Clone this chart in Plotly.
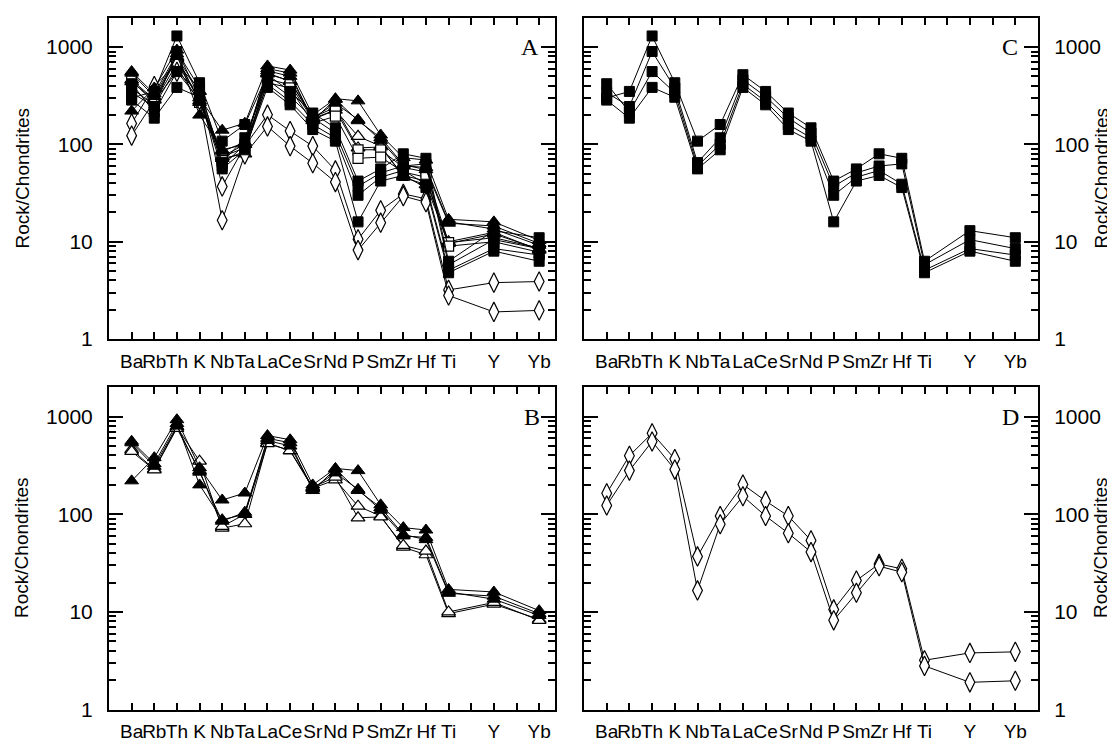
import plotly.graph_objects as go

# ---------------- data ----------------
elements = ["Ba", "Rb", "Th", "K", "Nb", "Ta", "La", "Ce", "Sr", "Nd", "P", "Sm", "Zr", "Hf", "Ti", "Y", "Yb"]
positions = [1, 2, 3, 4, 5, 6, 7, 8, 9, 10, 11, 12, 13, 14, 15, 17, 19]
tick_positions = list(range(1, 20))
tick_labels = ["Ba", "Rb", "Th", "K", "Nb", "Ta", "La", "Ce", "Sr", "Nd", "P", "Sm", "Zr", "Hf", "Ti", "", "Y", "", "Yb"]
y_tickvals = [1, 10, 100, 1000]
y_ticktext = ["1", "10", "100", "1000"]
panel_letters = ["A", "C", "B", "D"]

# filled squares (panel C)
sq1 = [300, 350, 1300, 430, 108, 160, 520, 350, 210, 148, 42, 56, 80, 72, 6.3, 13.0, 11.0]
sq2 = [340, 245, 900, 380, 65, 117, 460, 310, 187, 131, 37, 51, 60, 63, 5.8, 10.5, 8.5]
sq3 = [420, 215, 560, 340, 60, 100, 415, 276, 160, 117, 30, 46, 54, 39, 5.1, 8.5, 7.3]
sq4 = [285, 186, 385, 305, 56, 88, 385, 255, 142, 108, 16, 42, 48, 36, 4.8, 8.0, 6.3]

# filled triangles (panel B)
tri1 = [220, 380, 930, 300, 140, 165, 640, 580, 200, 295, 280, 125, 73, 69, 17.0, 16.0, 10.3]
tri2 = [560, 330, 850, 200, 88, 100, 600, 540, 175, 290, 175, 117, 62, 55, 15.5, 14.5, 9.6]
tri3 = [540, 310, 800, 270, 85, 105, 570, 500, 185, 265, 180, 110, 60, 58, 16.0, 13.5, 9.2]

# open triangles (panel B)
otri1 = [460, 290, 780, 350, 72, 80, 540, 445, 185, 225, 121, 96, 46, 38.5, 9.6, 12.0, 8.4]
otri2 = [440, 285, 760, 280, 75, 100, 530, 450, 190, 240, 92, 94, 48, 42, 10.0, 12.5, 8.2]

# open diamonds (panel D)
dia1 = [164, 398, 676, 368, 37, 96, 202, 137, 96, 54, 10.6, 21, 31, 27.6, 3.2, 3.8, 3.9]
dia2 = [123, 280, 557, 287, 16.6, 79, 153, 96, 64, 41, 8.2, 15.7, 29.4, 25.5, 2.8, 1.9, 1.97]

# open squares (panel A only)
osq1 = [450, 270, 680, 290, 75, 92, 470, 410, 180, 225, 88, 88, 58, 52, 9.8, 11.0, 8.6]
osq2 = [380, 250, 620, 270, 68, 85, 430, 380, 165, 195, 72, 74, 52, 46, 9.0, 10.0, 7.8]

# ---------------- styles ----------------
SANS = "Liberation Sans Narrow, Arial Narrow, Liberation Sans, Arial, sans-serif"
SANS_WIDE = "Liberation Sans, Arial, Helvetica, sans-serif"
SERIF = "Liberation Serif, Times New Roman, serif"

filled_square = dict(symbol="square", size=10, color="black", line=dict(color="black", width=1))
filled_tri = dict(symbol="triangle-up", size=12, color="black", line=dict(color="black", width=1))
open_tri = dict(symbol="triangle-up", size=12, color="white", line=dict(color="black", width=1.2))
open_dia = dict(symbol="diamond-tall", size=14, color="white", line=dict(color="black", width=1.2))
open_sq = dict(symbol="square", size=10, color="white", line=dict(color="black", width=1.2))

groups_A = [(otri1, open_tri), (otri2, open_tri), (osq1, open_sq), (osq2, open_sq),
            (dia1, open_dia), (dia2, open_dia),
            (sq1, filled_square), (sq2, filled_square), (sq3, filled_square), (sq4, filled_square),
            (tri1, filled_tri), (tri2, filled_tri), (tri3, filled_tri)]
groups_B = [(otri1, open_tri), (otri2, open_tri), (tri1, filled_tri), (tri2, filled_tri), (tri3, filled_tri)]
groups_C = [(sq1, filled_square), (sq2, filled_square), (sq3, filled_square), (sq4, filled_square)]
groups_D = [(dia1, open_dia), (dia2, open_dia)]

fig = go.Figure()

panels = [("x", "y", groups_A), ("x2", "y2", groups_C), ("x3", "y3", groups_B), ("x4", "y4", groups_D)]
for xa, ya, groups in panels:
    for vals, mk in groups:
        fig.add_trace(go.Scatter(
            x=positions, y=vals, mode="lines+markers",
            line=dict(color="black", width=1), marker=mk,
            xaxis=xa, yaxis=ya, showlegend=False, hoverinfo="skip"))

W, H = 1115, 749
left_dom = [101 / W, 547 / W]
right_dom = [576 / W, 1030 / W]
top_dom = [1 - 336 / H, 1 - 10 / H]
bot_dom = [1 - 712 / H, 1 - 385 / H]

minor_vals = [m * 10 ** e for e in range(0, 4) for m in range(2, 10)]


def xaxis(domain, anchor, rng):
    return dict(domain=domain, anchor=anchor, range=rng, showgrid=False, zeroline=False,
                showline=True, linecolor="black", linewidth=2, mirror="allticks",
                ticks="inside", ticklen=7, tickwidth=2, tickcolor="black", tickangle=0,
                tickmode="array", tickvals=tick_positions, ticktext=tick_labels,
                tickfont=dict(family=SANS, size=19, color="black"), ticklabelstandoff=4)


def yaxis(domain, anchor, side):
    return dict(domain=domain, anchor=anchor, type="log", range=[0, 3.3], side=side,
                showgrid=False, zeroline=False, showline=True, linecolor="black", linewidth=2,
                mirror="allticks", ticks="inside", ticklen=14, tickwidth=2, tickcolor="black",
                tickmode="array", tickvals=y_tickvals, ticktext=y_ticktext,
                tickfont=dict(family=SANS_WIDE, size=21, color="black"), ticklabelstandoff=10,
                minor=dict(ticks="inside", ticklen=7, tickwidth=1.5, tickcolor="black",
                           tickmode="array", tickvals=minor_vals, showgrid=False))


fig.update_layout(
    width=W, height=H, margin=dict(l=0, r=0, t=0, b=0),
    paper_bgcolor="white", plot_bgcolor="white",
    xaxis=xaxis(left_dom, "y", [0, 19.7]),
    yaxis=yaxis(top_dom, "x", "left"),
    xaxis2=xaxis(right_dom, "y2", [0, 20]),
    yaxis2=yaxis(top_dom, "x2", "right"),
    xaxis3=xaxis(left_dom, "y3", [0, 19.7]),
    yaxis3=yaxis(bot_dom, "x3", "left"),
    xaxis4=xaxis(right_dom, "y4", [0, 20]),
    yaxis4=yaxis(bot_dom, "x4", "right"),
)

annotations = []
letter_pos = [("x", "y", 18.6), ("x2", "y2", 18.75), ("x3", "y3", 18.7), ("x4", "y4", 18.8)]
for (xr, yr, xp), letter in zip(letter_pos, panel_letters):
    annotations.append(dict(x=xp, y=3.0, xref=xr, yref=yr, text=letter, showarrow=False,
                            font=dict(family=SERIF, size=24, color="black")))

title_pos = [(14 / W, 1 - 173 / H), (1093 / W, 1 - 173 / H), (14 / W, 1 - 548 / H), (1093 / W, 1 - 548 / H)]
for tx, ty in title_pos:
    annotations.append(dict(x=tx, y=ty, xref="paper", yref="paper", text="Rock/Chondrites",
                            textangle=-90, showarrow=False, xanchor="center", yanchor="middle",
                            font=dict(family=SANS_WIDE, size=19, color="black")))
fig.update_layout(annotations=annotations)

fig.write_html("out.html")
